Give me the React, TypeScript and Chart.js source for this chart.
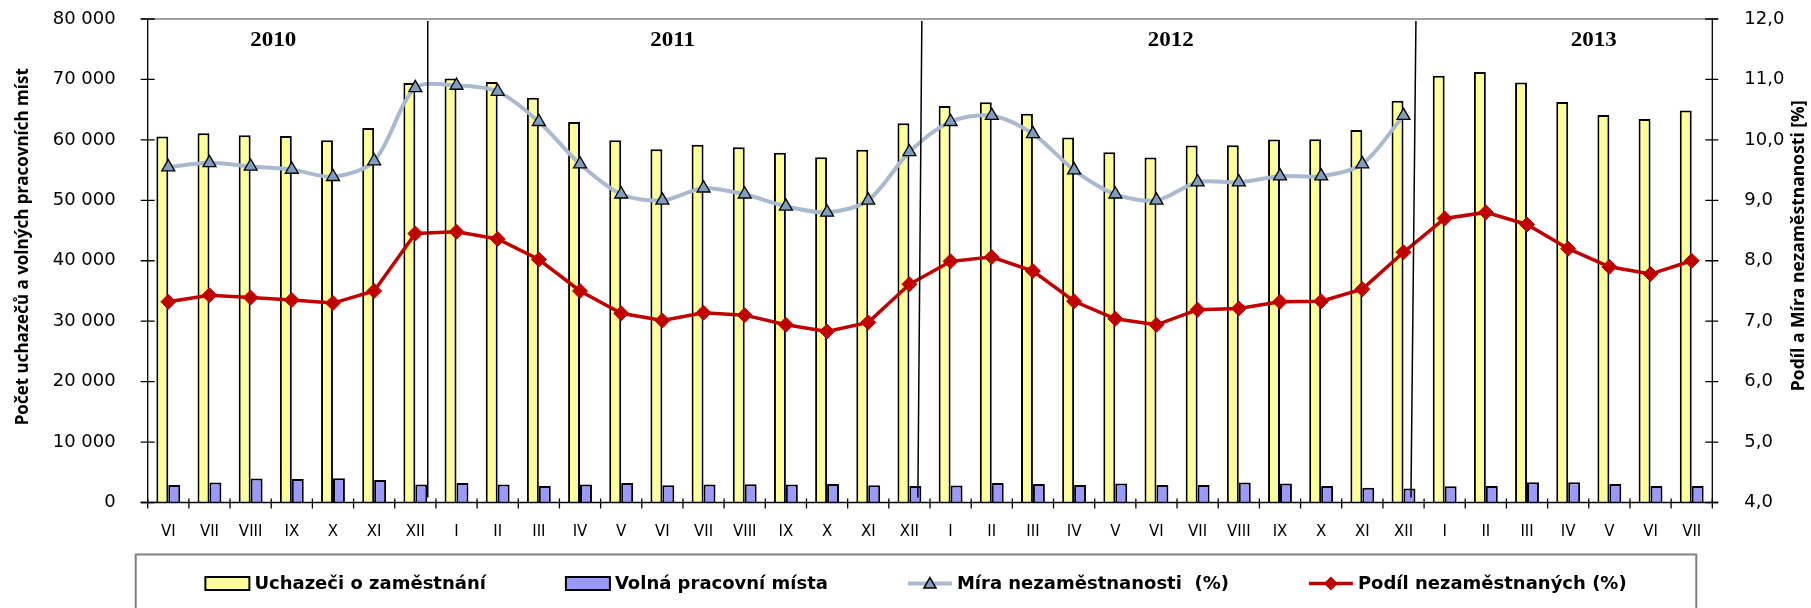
import React, { useEffect, useRef } from 'react';
import { Chart, registerables } from 'chart.js';

Chart.register(...registerables);

// ---------- data ----------
const months = [
  'VI', 'VII', 'VIII', 'IX', 'X', 'XI', 'XII',
  'I', 'II', 'III', 'IV', 'V', 'VI', 'VII', 'VIII', 'IX', 'X', 'XI', 'XII',
  'I', 'II', 'III', 'IV', 'V', 'VI', 'VII', 'VIII', 'IX', 'X', 'XI', 'XII',
  'I', 'II', 'III', 'IV', 'V', 'VI', 'VII',
];

const uchazeci = [
  60550, 61100, 60770, 60660, 59950, 61980, 69400,
  70160, 69560, 66980, 62970, 59950, 58460, 59180, 58790, 57860, 57140, 58350, 62750,
  65600, 66210, 64340, 60380, 57970, 57090, 59070, 59120, 60050, 60110, 61650, 66480,
  70600, 71210, 69510, 66260, 64120, 63460, 64840,
];

const volnaMista = [
  2910, 3300, 3960, 3900, 4010, 3740, 2970,
  3240, 2970, 2750, 2970, 3240, 2860, 2970, 3020, 2970, 3080, 2860, 2750,
  2800, 3240, 3080, 2910, 3130, 2910, 2910, 3300, 3130, 2750, 2420, 2310,
  2690, 2750, 3350, 3350, 3080, 2750, 2750,
];

const miraNezamestnanosti = [
  9.55, 9.62, 9.56, 9.51, 9.39, 9.65, 10.86,
  10.9, 10.8, 10.3, 9.6, 9.1, 9.0, 9.2, 9.1, 8.9, 8.8, 9.0, 9.8,
  10.3, 10.4, 10.1, 9.5, 9.1, 9.0, 9.3, 9.3, 9.4, 9.4, 9.6, 10.4,
  null, null, null, null, null, null, null,
];

const podilNezamestnanych = [
  7.32, 7.43, 7.39, 7.35, 7.30, 7.50, 8.45,
  8.48, 8.36, 8.02, 7.50, 7.13, 7.01, 7.14, 7.10, 6.94, 6.83, 6.98, 7.61,
  7.99, 8.06, 7.83, 7.33, 7.04, 6.94, 7.19, 7.21, 7.32, 7.33, 7.53, 8.14,
  8.70, 8.80, 8.60, 8.20, 7.90, 7.78, 8.00,
];

const seriesNames = [
  'Uchazeči o zaměstnání',
  'Volná pracovní místa',
  'Míra nezaměstnanosti  (%)',
  'Podíl nezaměstnaných (%)',
];

const yearLabels = ['2010', '2011', '2012', '2013'];
const yearLabelPos = [2.55, 12.25, 24.35, 34.62]; // category index positions
const yearSeparators = [6, 18, 30]; // last category (XII) of each year
const separatorSlant = [0, -4, -5];

const leftTitle = 'Počet uchazečů a volných pracovních míst';
const rightTitle = 'Podíl a Míra nezaměstnanosti [%]';

// ---------- styles ----------
const YELLOW = '#FFFF99';
const BLUE = '#9999FF';
const MIRA_LINE = '#A9B9D0';
const MIRA_POINT = '#7F9DBE';
const RED = '#C00000';
const SANS = '"DejaVu Sans", sans-serif';
const TITLE_FONT = '"Open Sans", sans-serif';
const CAT_PCT = 0.58;

const fmtThousands = (v: number) =>
  String(Math.round(v)).replace(/\B(?=(\d{3})+(?!\d))/g, ' ');

function drawTriangle(ctx: CanvasRenderingContext2D, x: number, y: number, r: number) {
  ctx.beginPath();
  let rad = 0;
  ctx.moveTo(x + Math.sin(rad) * r, y - Math.cos(rad) * r);
  rad += (2 * Math.PI) / 3;
  ctx.lineTo(x + Math.sin(rad) * r, y - Math.cos(rad) * r);
  rad += (2 * Math.PI) / 3;
  ctx.lineTo(x + Math.sin(rad) * r, y - Math.cos(rad) * r);
  ctx.closePath();
  ctx.fillStyle = MIRA_POINT;
  ctx.fill();
  ctx.lineWidth = 1.5;
  ctx.strokeStyle = '#000';
  ctx.stroke();
}

function drawDiamond(ctx: CanvasRenderingContext2D, x: number, y: number, r: number) {
  ctx.beginPath();
  ctx.moveTo(x, y - r);
  ctx.lineTo(x + r, y);
  ctx.lineTo(x, y + r);
  ctx.lineTo(x - r, y);
  ctx.closePath();
  ctx.fillStyle = RED;
  ctx.fill();
}

const overlayPlugin = {
  id: 'overlay',
  afterDatasetsDraw(chart: any) {
    const ctx: CanvasRenderingContext2D = chart.ctx;
    const xs = chart.scales.x;
    const ca = chart.chartArea;
    const catW = xs.getPixelForValue(1) - xs.getPixelForValue(0);

    // year separators
    ctx.save();
    ctx.strokeStyle = '#000';
    ctx.lineWidth = 1.5;
    yearSeparators.forEach((idx, i) => {
      const xTop = xs.getPixelForValue(idx) + (catW * CAT_PCT) / 2 + 0.5;
      ctx.beginPath();
      ctx.moveTo(xTop, ca.top + 2);
      ctx.lineTo(xTop + separatorSlant[i], ca.bottom - 5);
      ctx.stroke();
    });
    ctx.restore();

    // year labels
    ctx.save();
    ctx.fillStyle = '#000';
    ctx.font = 'bold 20px "Liberation Serif", serif';
    ctx.textAlign = 'center';
    ctx.textBaseline = 'middle';
    yearLabels.forEach((t, i) => {
      const x = xs.getPixelForValue(yearLabelPos[i]);
      ctx.save();
      ctx.translate(x, ca.top + 22);
      ctx.scale(1.15, 1);
      ctx.fillText(t, 0, 0);
      ctx.restore();
    });
    ctx.restore();
  },
  afterDraw(chart: any) {
    const ctx: CanvasRenderingContext2D = chart.ctx;
    const xs = chart.scales.x;
    const yl = chart.scales.y;
    const yr = chart.scales.y1;
    const ca = chart.chartArea;

    ctx.save();
    // plot top border (gray)
    ctx.strokeStyle = '#808080';
    ctx.lineWidth = 1.5;
    ctx.beginPath();
    ctx.moveTo(ca.left - 7, ca.top);
    ctx.lineTo(ca.right + 6, ca.top);
    ctx.stroke();

    // axis lines
    ctx.strokeStyle = '#000';
    ctx.lineWidth = 1.3;
    ctx.beginPath();
    ctx.moveTo(ca.left, ca.top);
    ctx.lineTo(ca.left, ca.bottom);
    ctx.moveTo(ca.right, ca.top);
    ctx.lineTo(ca.right, ca.bottom);
    ctx.moveTo(ca.left - 7, ca.bottom);
    ctx.lineTo(ca.right + 6, ca.bottom);
    ctx.stroke();

    // ticks
    ctx.beginPath();
    yl.ticks.forEach((t: any) => {
      const y = yl.getPixelForValue(t.value);
      ctx.moveTo(ca.left - 7, y);
      ctx.lineTo(ca.left + 7, y);
    });
    yr.ticks.forEach((t: any) => {
      const y = yr.getPixelForValue(t.value);
      ctx.moveTo(ca.right - 7, y);
      ctx.lineTo(ca.right + 6, y);
    });
    for (let k = 0; k <= months.length; k++) {
      const x = xs.getPixelForValue(k - 0.5);
      ctx.moveTo(x, ca.bottom - 4);
      ctx.lineTo(x, ca.bottom + 6);
    }
    ctx.stroke();

    // axis titles
    ctx.fillStyle = '#000';
    ctx.textAlign = 'center';
    ctx.textBaseline = 'middle';
    ctx.font = `bold 17px ${TITLE_FONT}`;
    ctx.save();
    ctx.translate(23, (ca.top + ca.bottom) / 2 - 14);
    ctx.rotate(-Math.PI / 2);
    ctx.fillText(leftTitle, 0, 0);
    ctx.restore();
    ctx.font = `bold 17.5px ${TITLE_FONT}`;
    ctx.save();
    ctx.translate(ca.right + 87, (ca.top + ca.bottom) / 2 - 15);
    ctx.rotate(-Math.PI / 2);
    ctx.fillText(rightTitle, 0, 0);
    ctx.restore();

    // legend box
    const boxL = ca.left - 12;
    const boxR = ca.right - 16;
    const boxT = ca.bottom + 52;
    ctx.strokeStyle = '#808080';
    ctx.lineWidth = 2;
    ctx.beginPath();
    ctx.moveTo(boxL, chart.height + 5);
    ctx.lineTo(boxL, boxT);
    ctx.lineTo(boxR, boxT);
    ctx.lineTo(boxR, chart.height + 5);
    ctx.stroke();

    // legend items
    ctx.font = `bold 18px ${SANS}`;
    ctx.textAlign = 'left';
    ctx.textBaseline = 'middle';
    const swW = 44;
    const gapSw = 5;
    const gapItem = 80;
    const widths = seriesNames.map((n) => swW + gapSw + ctx.measureText(n).width);
    const total = widths.reduce((a, b) => a + b, 0) + gapItem * (seriesNames.length - 1);
    let x = (boxL + boxR) / 2 - total / 2;
    const ly = boxT + 29;
    seriesNames.forEach((name, i) => {
      if (i < 2) {
        ctx.fillStyle = i === 0 ? YELLOW : BLUE;
        ctx.fillRect(x, ly - 6.5, swW, 13);
        ctx.strokeStyle = '#000';
        ctx.lineWidth = 2;
        ctx.strokeRect(x, ly - 6.5, swW, 13);
      } else if (i === 2) {
        ctx.strokeStyle = MIRA_LINE;
        ctx.lineWidth = 4;
        ctx.beginPath();
        ctx.moveTo(x, ly);
        ctx.lineTo(x + swW, ly);
        ctx.stroke();
        drawTriangle(ctx, x + swW / 2, ly + 1, 7);
      } else {
        ctx.strokeStyle = RED;
        ctx.lineWidth = 3.5;
        ctx.beginPath();
        ctx.moveTo(x, ly);
        ctx.lineTo(x + swW, ly);
        ctx.stroke();
        drawDiamond(ctx, x + swW / 2, ly, 7);
      }
      ctx.fillStyle = '#000';
      ctx.fillText(name, x + swW + gapSw, ly + 1);
      x += widths[i] + gapItem;
    });
    ctx.restore();
  },
};

const fixVertical = (w: number) => (s: any) => {
  s.width = w;
  s.paddingTop = 0;
  s.paddingBottom = 0;
};

export default function App() {
  const ref = useRef<HTMLCanvasElement>(null);

  useEffect(() => {
    const canvas = ref.current;
    if (!canvas) return;
    const chart = new Chart(canvas, {
      type: 'bar',
      data: {
        labels: months,
        datasets: [
          {
            type: 'bar',
            label: seriesNames[0],
            data: uchazeci,
            yAxisID: 'y',
            backgroundColor: YELLOW,
            borderColor: '#000',
            borderWidth: 2,
            categoryPercentage: CAT_PCT,
            barPercentage: 1,
            order: 2,
          } as any,
          {
            type: 'bar',
            label: seriesNames[1],
            data: volnaMista,
            yAxisID: 'y',
            backgroundColor: BLUE,
            borderColor: '#000',
            borderWidth: 2,
            categoryPercentage: CAT_PCT,
            barPercentage: 1,
            order: 3,
          } as any,
          {
            type: 'line',
            label: seriesNames[2],
            data: miraNezamestnanosti,
            yAxisID: 'y1',
            borderColor: MIRA_LINE,
            backgroundColor: MIRA_POINT,
            borderWidth: 4,
            pointStyle: 'triangle',
            pointRadius: 7.5,
            pointBackgroundColor: MIRA_POINT,
            pointBorderColor: '#000',
            pointBorderWidth: 1.3,
            tension: 0.3,
            order: 1,
          } as any,
          {
            type: 'line',
            label: seriesNames[3],
            data: podilNezamestnanych,
            yAxisID: 'y1',
            borderColor: RED,
            backgroundColor: RED,
            borderWidth: 3.5,
            pointStyle: 'rectRot',
            pointRadius: 7.5,
            pointBackgroundColor: RED,
            pointBorderColor: RED,
            pointBorderWidth: 1,
            tension: 0,
            order: 0,
          } as any,
        ],
      },
      options: {
        responsive: false,
        animation: false,
        devicePixelRatio: 1,
        layout: { autoPadding: false, padding: { top: 19, left: 0, right: 0, bottom: 0 } },
        plugins: {
          legend: { display: false },
          tooltip: { enabled: false },
          title: { display: false },
        },
        scales: {
          x: {
            type: 'category',
            offset: true,
            grid: { display: false },
            border: { display: false },
            ticks: {
              color: '#000',
              font: { family: SANS, size: 15 },
              padding: 13,
              maxRotation: 0,
              autoSkip: false,
            },
            afterFit: (s: any) => {
              s.height = 105.5;
            },
          },
          y: {
            position: 'left',
            min: 0,
            max: 80000,
            grid: { display: false },
            border: { display: false },
            ticks: {
              stepSize: 10000,
              color: '#000',
              font: { family: SANS, size: 18 },
              padding: 24,
              callback: (v: any) => fmtThousands(Number(v)),
            },
            afterFit: fixVertical(147.7),
          },
          y1: {
            position: 'right',
            min: 4,
            max: 12,
            grid: { display: false },
            border: { display: false },
            ticks: {
              stepSize: 1,
              color: '#000',
              font: { family: SANS, size: 18 },
              padding: 24,
              callback: (v: any) => Number(v).toFixed(1).replace('.', ','),
            },
            afterFit: fixVertical(98.7),
          },
        },
      } as any,
      plugins: [overlayPlugin],
    });
    return () => chart.destroy();
  }, []);

  return (
    <div style={{ position: 'absolute', left: 0, top: 0, width: 1811, height: 608, background: '#fff' }}>
      <canvas ref={ref} width={1811} height={608} style={{ display: 'block' }} />
    </div>
  );
}
